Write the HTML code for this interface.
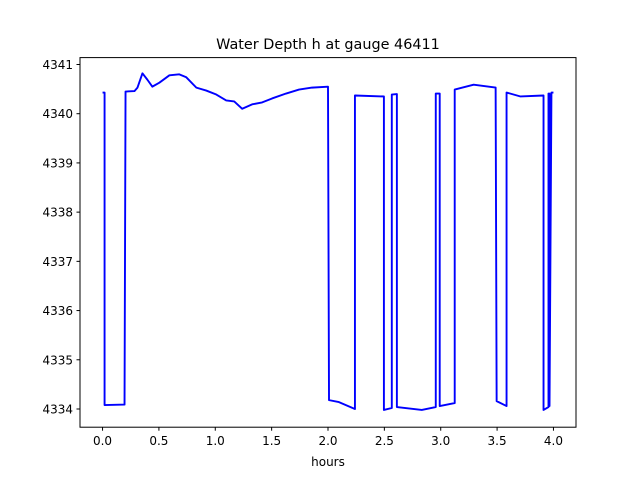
<!DOCTYPE html>
<html><head><meta charset="utf-8"><style>
body{margin:0;background:#fff;font-family:"Liberation Sans","DejaVu Sans",sans-serif}
svg text{font-family:"DejaVu Sans","Liberation Sans",sans-serif;font-size:12px;fill:#000}
</style></head><body>
<svg id="chart" width="640" height="480">
<rect width="640" height="480" fill="#fff"/>
<text x="328" y="49" text-anchor="middle" style="font-size:14.4px">Water Depth h at gauge 46411</text>
<g id="xt"></g><g id="yt"></g>
<path id="line" fill="none" stroke="#0000ff" stroke-width="1.9" stroke-linejoin="round"/>
<rect x="80" y="57.6" width="496" height="369.6" fill="none" stroke="#000" stroke-width="1"/>
<text x="328" y="466" text-anchor="middle">hours</text>
</svg>
<script>
const hours=[0,0.018,0.018,0.195,0.204,0.283,0.31,0.354,0.398,0.442,0.504,0.593,0.681,0.743,0.832,0.92,1.009,1.097,1.168,1.239,1.327,1.416,1.504,1.628,1.743,1.858,2.0,2.009,2.097,2.239,2.239,2.496,2.496,2.566,2.566,2.611,2.611,2.832,2.956,2.956,2.991,2.991,3.124,3.124,3.292,3.487,3.496,3.584,3.584,3.708,3.912,3.912,3.956,3.956,3.965,3.965,3.982,4.0];
const depth=[4340.43,4340.43,4334.08,4334.09,4340.45,4340.46,4340.53,4340.82,4340.69,4340.55,4340.63,4340.78,4340.80,4340.74,4340.53,4340.47,4340.39,4340.27,4340.25,4340.10,4340.19,4340.23,4340.31,4340.41,4340.49,4340.53,4340.55,4334.18,4334.14,4334.0,4340.37,4340.35,4333.98,4334.02,4340.39,4340.40,4334.04,4333.98,4334.04,4340.41,4340.41,4334.06,4334.12,4340.49,4340.59,4340.53,4334.16,4334.06,4340.43,4340.35,4340.37,4333.98,4334.04,4340.41,4340.41,4334.06,4340.43,4340.43];
const xTicks=[0,0.5,1,1.5,2,2.5,3,3.5,4];
const xLabels=["0.0","0.5","1.0","1.5","2.0","2.5","3.0","3.5","4.0"];
const yTicks=[4334,4335,4336,4337,4338,4339,4340,4341];
const yLabels=["4334","4335","4336","4337","4338","4339","4340","4341"];
const X=t=>80+(t+0.2)/4.4*496;
const Y=h=>427.2-(h-4333.63)/(4341.14-4333.63)*369.6;
const NS="http://www.w3.org/2000/svg";
const xt=document.getElementById('xt'),yt=document.getElementById('yt');
xTicks.forEach((t,i)=>{
 const l=document.createElementNS(NS,'line');
 
 
 l.setAttribute('x1',X(t));l.setAttribute('x2',X(t));l.setAttribute('y1',427.2);l.setAttribute('y2',430.7);l.setAttribute('stroke','#000');
 xt.appendChild(l);
 const tx=document.createElementNS(NS,'text');
 
 
 tx.setAttribute('x',X(t));tx.setAttribute('y',445);tx.setAttribute('text-anchor','middle');tx.textContent=xLabels[i];
 xt.appendChild(tx);
});
yTicks.forEach((h,i)=>{
 const l=document.createElementNS(NS,'line');
 
 
 l.setAttribute('x1',76.5);l.setAttribute('x2',80);l.setAttribute('y1',Y(h));l.setAttribute('y2',Y(h));l.setAttribute('stroke','#000');
 yt.appendChild(l);
 const tx=document.createElementNS(NS,'text');
 
 
 tx.setAttribute('x',73);tx.setAttribute('y',Y(h)+4.5);tx.setAttribute('text-anchor','end');tx.textContent=yLabels[i];
 yt.appendChild(tx);
});
document.getElementById('line').setAttribute('d',hours.map((t,i)=>(i?'L':'M')+X(t).toFixed(2)+','+Y(depth[i]).toFixed(2)).join(''));
</script>
</body></html>
